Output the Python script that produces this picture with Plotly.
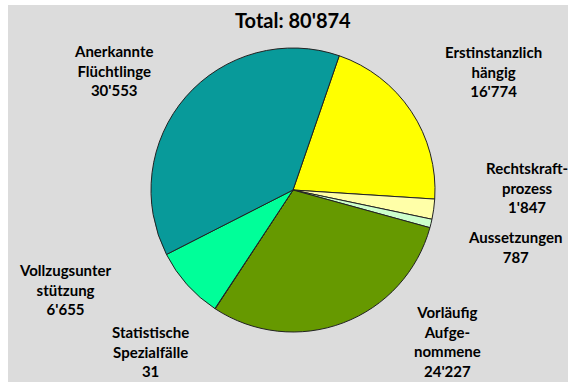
import plotly.graph_objects as go

# Data (clockwise from top)
categories = ["Erstinstanzlich hängig", "Rechtskraftprozess", "Aussetzungen",
              "Vorläufig Aufgenommene", "Statistische Spezialfälle",
              "Vollzugsunterstützung", "Anerkannte Flüchtlinge"]
label_lines = [["Erstinstanzlich", "hängig"], ["Rechtskraft-", "prozess"], ["Aussetzungen"],
               ["Vorläufig", "Aufge-", "nommene"], ["Statistische", "Spezialfälle"],
               ["Vollzugsunter", "stützung"], ["Anerkannte", "Flüchtlinge"]]
values = [16774, 1847, 787, 24227, 31, 6655, 30553]
colors = ["#ffff00", "#ffffa8", "#ccffcc", "#669900", "#33cccc", "#00ff99", "#089a9a"]

W, H = 568, 382
# label centres in pixels (layout only)
label_pos = [(493, 71), (527, 187), (515, 247), (448, 341), (150, 351), (65, 289), (113, 70)]


def fmt(v):
    return f"{v:,}".replace(",", "'")


total = sum(values)

fig = go.Figure()
cx, cy, r = 293, 190, 142
fig.add_trace(go.Pie(
    labels=categories, values=values, sort=False, direction="clockwise", rotation=19,
    marker=dict(colors=colors, line=dict(color="#222222", width=1)),
    textinfo="none", showlegend=False,
    domain=dict(x=[(cx - r) / W, (cx + r) / W], y=[1 - (cy + r) / H, 1 - (cy - r) / H]),
))

annotations = [dict(text=f"<b>Total: {fmt(total)}</b>", x=293 / W, y=1 - 20 / H,
                    xref="paper", yref="paper", showarrow=False,
                    font=dict(family="Lato", size=20, color="black"),
                    xanchor="center", yanchor="middle")]
for lines, v, (px, py) in zip(label_lines, values, label_pos):
    txt = "<br>".join(f"<b>{s}</b>" for s in lines + [fmt(v)])
    annotations.append(dict(text=txt, x=px / W, y=1 - py / H, xref="paper", yref="paper",
                            showarrow=False, align="center",
                            font=dict(family="Lato", size=15, color="black"),
                            xanchor="center", yanchor="middle"))

fig.update_layout(
    width=W, height=H, margin=dict(l=0, r=0, t=0, b=0),
    paper_bgcolor="white", plot_bgcolor="white",
    shapes=[dict(type="rect", xref="paper", yref="paper", x0=8 / W, x1=1, y0=0, y1=1 - 5 / H,
                 fillcolor="#dcdcdc", line=dict(width=0), layer="below")],
    annotations=annotations,
)
fig.write_html("out.html")
